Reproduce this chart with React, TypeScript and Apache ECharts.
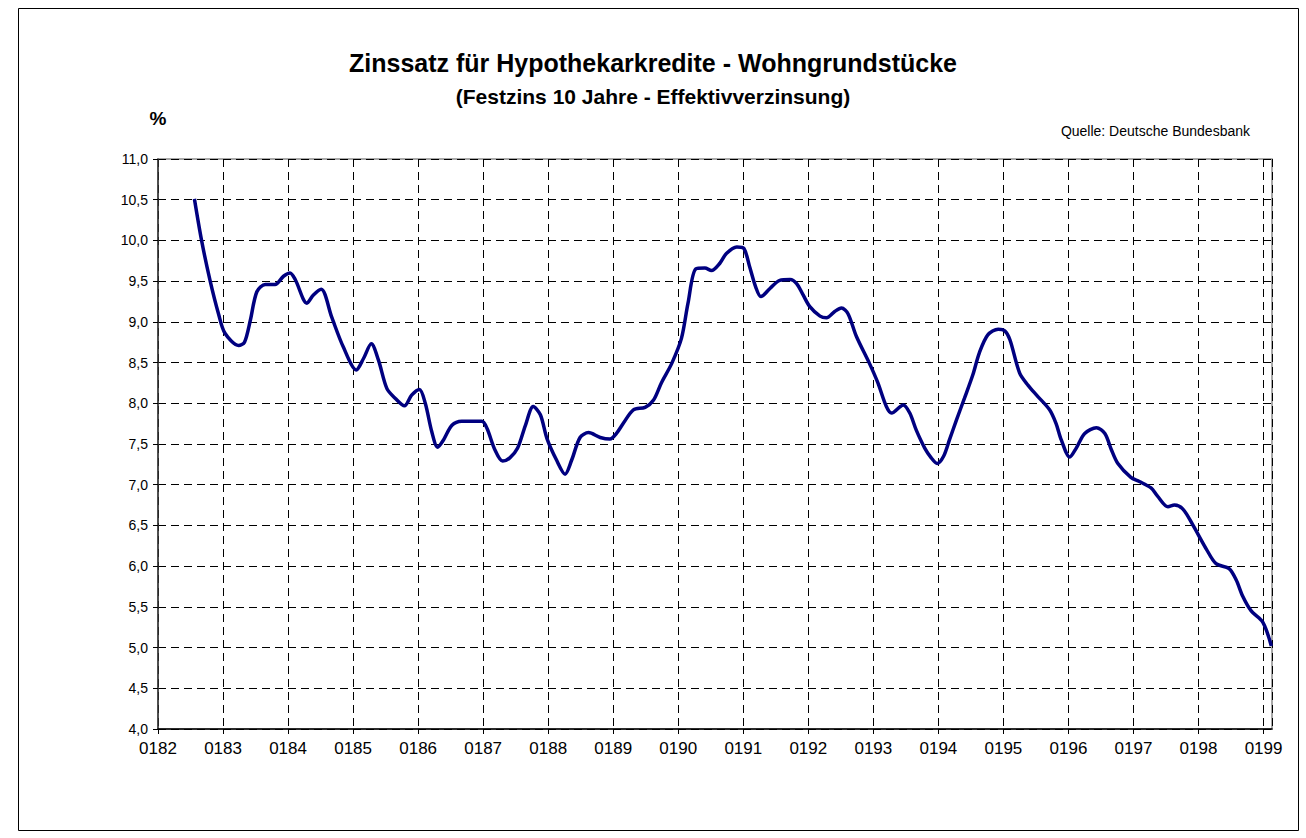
import React, { useEffect, useRef } from "react";
import * as echarts from "echarts";

// Time in years since Jan 1982 (axis label 0182 = 01/82)
const startYear = 1982;
const endYear = 1999.13;
const yearOffsets = [
  0.56, 0.67, 0.8, 0.93, 1.03, 1.24, 1.33, 1.42, 1.52, 1.65, 1.8, 1.93, 2.03, 2.11, 2.29, 2.39, 2.51, 2.67, 2.85, 3.05,
  3.16, 3.28, 3.39, 3.52, 3.65, 3.79, 3.9, 4.02, 4.11, 4.21, 4.3, 4.39, 4.52, 4.67, 4.98, 5.06, 5.18, 5.3, 5.41, 5.53,
  5.65, 5.77, 5.88, 5.98, 6.13, 6.26, 6.36, 6.49, 6.62, 6.8, 6.95, 7.05, 7.16, 7.31, 7.49, 7.62, 7.74, 7.9, 8.05, 8.15,
  8.27, 8.41, 8.51, 8.64, 8.74, 8.9, 9.01, 9.1, 9.19, 9.27, 9.41, 9.56, 9.72, 9.82, 9.92, 10.02, 10.18, 10.28, 10.41,
  10.51, 10.61, 10.74, 10.94, 11.07, 11.2, 11.28, 11.46, 11.56, 11.66, 11.79, 11.89, 11.98, 12.08, 12.17, 12.28, 12.4,
  12.53, 12.63, 12.76, 12.92, 13.02, 13.1, 13.25, 13.38, 13.51, 13.71, 13.81, 13.89, 14.02, 14.12, 14.25, 14.43, 14.56,
  14.66, 14.76, 14.96, 15.09, 15.27, 15.37, 15.53, 15.63, 15.76, 15.91, 16.12, 16.27, 16.47, 16.58, 16.68, 16.81,
  16.99, 17.12,
];
const rates = [
  10.51, 10.0, 9.51, 9.1, 8.86, 8.71, 8.75, 9.02, 9.37, 9.46, 9.46, 9.56, 9.6, 9.52, 9.23, 9.33, 9.4, 9.06, 8.69, 8.41,
  8.55, 8.73, 8.53, 8.18, 8.06, 7.97, 8.1, 8.17, 8.0, 7.65, 7.46, 7.55, 7.73, 7.78, 7.78, 7.69, 7.43, 7.29, 7.33, 7.45,
  7.73, 7.96, 7.86, 7.57, 7.3, 7.13, 7.3, 7.58, 7.64, 7.58, 7.56, 7.63, 7.76, 7.92, 7.95, 8.04, 8.25, 8.49, 8.8, 9.23,
  9.65, 9.66, 9.63, 9.72, 9.84, 9.92, 9.9, 9.67, 9.43, 9.31, 9.41, 9.51, 9.52, 9.47, 9.33, 9.19, 9.07, 9.05, 9.13,
  9.17, 9.1, 8.82, 8.49, 8.25, 7.96, 7.88, 7.98, 7.88, 7.67, 7.45, 7.33, 7.26, 7.35, 7.55, 7.8, 8.06,
  8.35, 8.62, 8.84, 8.91, 8.89, 8.78, 8.37, 8.22, 8.1, 7.92, 7.75, 7.55, 7.34, 7.45, 7.63, 7.7, 7.63,
  7.43, 7.26, 7.09, 7.04, 6.96, 6.86, 6.73, 6.75, 6.7, 6.51, 6.21, 6.03, 5.97, 5.83, 5.63, 5.45,
  5.31, 5.02,
];
const yMin = 4;
const yMax = 11;
const yStep = 0.5;

const titleText = "Zinssatz für Hypothekarkredite - Wohngrundstücke";
const subtitleText = "(Festzins 10 Jahre - Effektivverzinsung)";
const unitText = "%";
const sourceText = "Quelle: Deutsche Bundesbank";

const FONT = "'Liberation Sans', Arial, sans-serif";

export default function App() {
  const ref = useRef<HTMLDivElement>(null);
  useEffect(() => {
    if (!ref.current) return;
    const chart = echarts.init(ref.current, null, { renderer: "svg" });
    const data = yearOffsets.map((o, i) => [startYear + o, rates[i]]);
    chart.setOption({
      animation: false,
      backgroundColor: "#ffffff",
      textStyle: { fontFamily: FONT },
      grid: {
        left: 158,
        top: 159,
        right: 34,
        bottom: 109,
        show: true,
        borderColor: "#8c8c8c",
        borderWidth: 1.5,
        backgroundColor: "transparent",
      },
      xAxis: {
        type: "value",
        min: startYear,
        max: endYear,
        interval: 1,
        axisLine: { show: true, onZero: false, lineStyle: { color: "#000", width: 1.5 } },
        axisTick: { show: true, length: 5, lineStyle: { color: "#000" } },
        axisLabel: {
          show: true,
          showMaxLabel: false,
          color: "#000",
          fontSize: 17,
          fontFamily: FONT,
          margin: 11,
          formatter: (v: number) =>
            Math.abs(v - Math.round(v)) < 1e-6 ? "01" + String(Math.round(v)).slice(2) : "",
        },
        splitLine: { show: true, lineStyle: { color: "#000", type: [8, 5], width: 1 } },
      },
      yAxis: {
        type: "value",
        min: yMin,
        max: yMax,
        interval: yStep,
        axisLine: { show: true, lineStyle: { color: "#333", width: 1.5 } },
        axisTick: { show: true, length: 5, lineStyle: { color: "#000" } },
        axisLabel: {
          color: "#000",
          fontSize: 14,
          fontFamily: FONT,
          margin: 10,
          formatter: (v: number) => v.toFixed(1).replace(".", ","),
        },
        splitLine: { show: true, lineStyle: { color: "#000", type: [8, 5], width: 1 } },
      },
      series: [
        {
          type: "line",
          data,
          smooth: 0.3,
          showSymbol: false,
          symbol: "none",
          lineStyle: { color: "#000080", width: 3.5 },
          z: 5,
        },
      ],
      graphic: [
        {
          type: "rect",
          shape: { x: 18.5, y: 8.5, width: 1280, height: 822 },
          style: { fill: "none", stroke: "#000", lineWidth: 1 },
          silent: true,
          z: -1,
        },
        {
          type: "text",
          x: 653,
          y: 63,
          style: {
            text: titleText,
            font: `bold 25px ${FONT}`,
            fill: "#000",
            textAlign: "center",
            textVerticalAlign: "middle",
          },
        },
        {
          type: "text",
          x: 653,
          y: 96,
          style: {
            text: subtitleText,
            font: `bold 21px ${FONT}`,
            fill: "#000",
            textAlign: "center",
            textVerticalAlign: "middle",
          },
        },
        {
          type: "text",
          x: 158,
          y: 118,
          style: {
            text: unitText,
            font: `bold 19px ${FONT}`,
            fill: "#000",
            textAlign: "center",
            textVerticalAlign: "middle",
          },
        },
        {
          type: "text",
          x: 1250,
          y: 131,
          style: {
            text: sourceText,
            font: `14px ${FONT}`,
            fill: "#000",
            textAlign: "right",
            textVerticalAlign: "middle",
          },
        },
      ],
    });
    return () => chart.dispose();
  }, []);
  return (
    <div
      ref={ref}
      style={{ position: "fixed", left: 0, top: 0, width: 1306, height: 838, background: "#fff" }}
    />
  );
}
